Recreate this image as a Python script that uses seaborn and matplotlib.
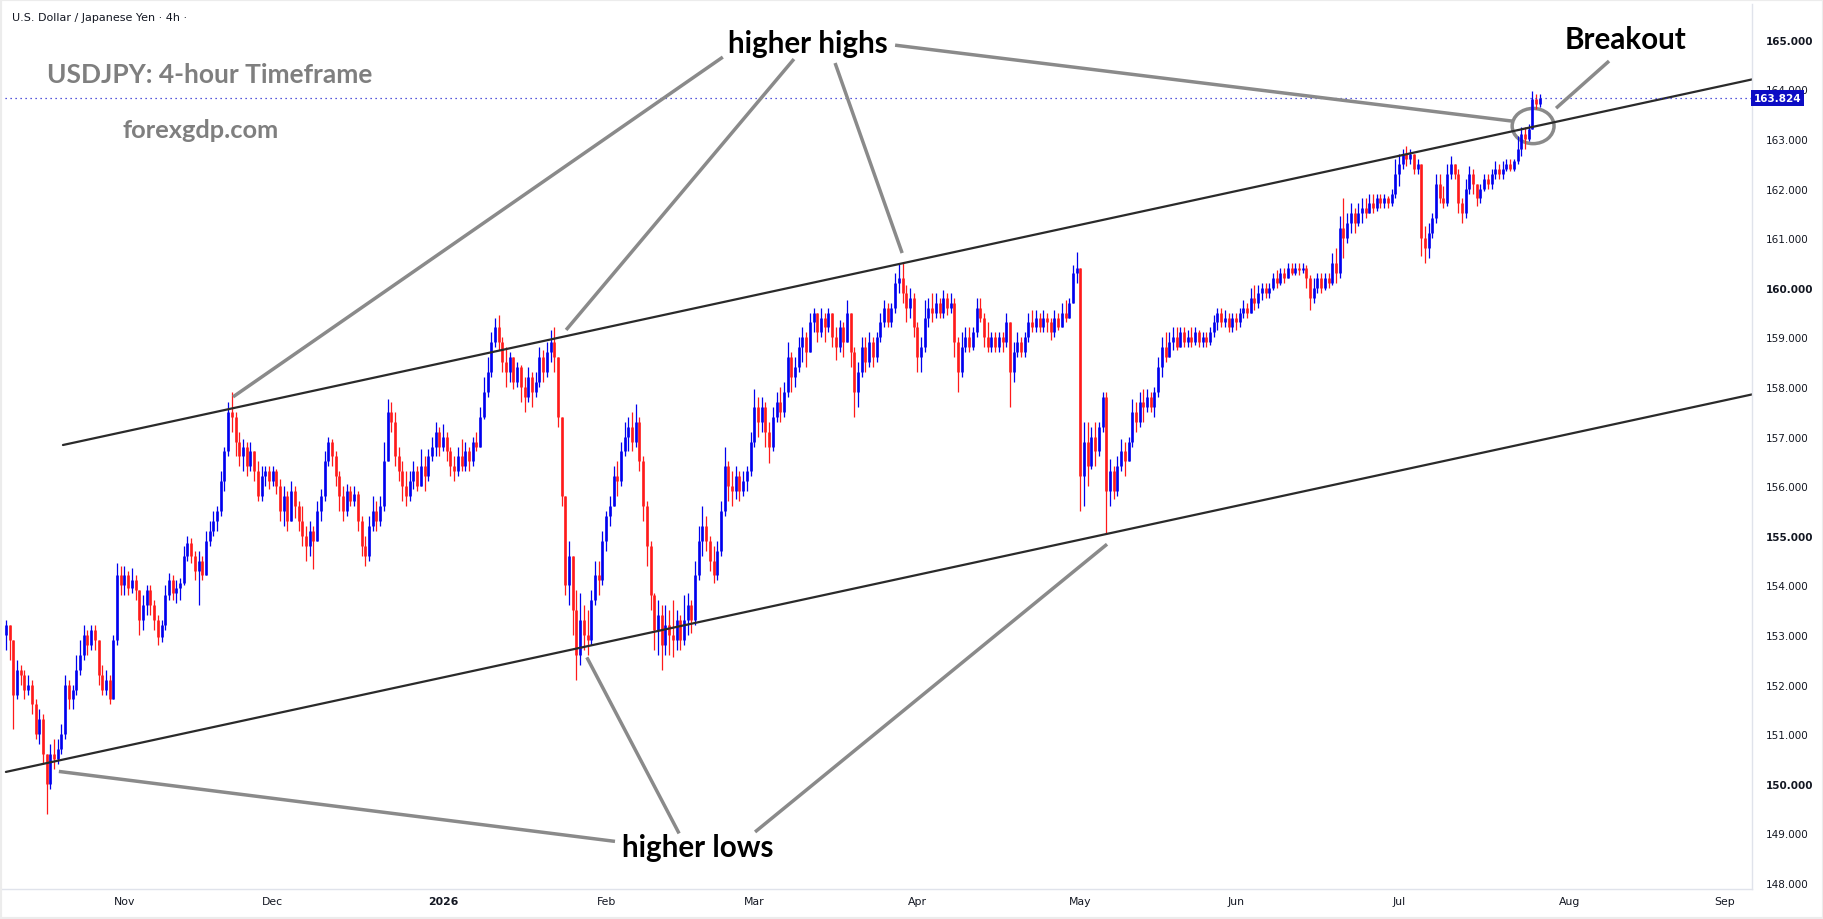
import numpy as np
import pandas as pd
import seaborn as sns
import matplotlib.pyplot as plt
from matplotlib.patches import Ellipse

# USDJPY, two candles per trading day, first day 2025-10-10
first_day = '2025-10-10'
first_open = 153.0
last_price = 163.824

close = [
    153.2, 152.9, 151.8, 152.3, 152.2, 151.9, 152.0, 151.6, 151.0, 151.3,
    150.6, 150.0, 150.6, 150.5, 150.7, 151.0, 152.0, 151.7, 151.9, 152.3,
    152.6, 153.0, 152.8, 153.1, 152.9, 152.2, 151.9, 152.1, 151.7, 152.9,
    154.2, 154.0, 154.2, 153.95, 154.1, 153.9, 153.3, 153.6, 153.9, 153.6,
    153.3, 152.95, 153.2, 153.8, 154.1, 153.85, 153.95, 154.05, 154.6, 154.85,
    154.6, 154.3, 154.5, 154.2, 154.9, 155.1, 155.3, 155.5, 156.1, 156.7,
    157.5, 157.4, 156.9, 156.6, 156.8, 156.4, 156.7, 156.3, 155.8, 156.2,
    156.3, 156.1, 156.3, 156.0, 155.5, 155.8, 155.3, 155.9, 155.6, 155.3,
    155.0, 154.8, 155.1, 154.9, 155.5, 155.8, 156.5, 156.9, 156.6, 156.2,
    155.8, 155.5, 155.9, 155.7, 155.85, 155.3, 154.8, 154.6, 155.2, 155.5,
    155.3, 155.6, 156.5, 157.5, 157.3, 156.6, 156.3, 156.0, 155.8, 156.1,
    156.3, 156.0, 156.4, 156.2, 156.6, 156.8, 157.1, 156.8, 157.0, 156.7,
    156.4, 156.3, 156.6, 156.4, 156.7, 156.5, 156.9, 156.8, 157.4, 157.9,
    158.3, 158.9, 159.2, 158.9, 158.5, 158.3, 158.6, 158.1, 158.4, 158.0,
    157.8, 158.2, 157.9, 158.1, 158.6, 158.3, 158.7, 158.9, 158.6, 157.4,
    155.8, 154.0, 154.6, 153.5, 152.6, 153.3, 153.0, 152.9, 153.7, 154.2,
    154.1, 154.9, 155.4, 155.6, 156.2, 156.1, 156.7, 157.0, 157.2, 156.9,
    157.3, 156.5, 155.6, 154.8, 153.8, 153.1, 153.4, 152.8, 153.2, 153.0,
    152.9, 153.3, 152.9, 153.3, 153.6, 153.3, 154.2, 154.9, 155.2, 154.9,
    154.5, 154.2, 154.7, 155.5, 156.4, 156.0, 155.9, 156.2, 155.9, 156.1,
    156.3, 156.9, 157.6, 157.3, 157.6, 157.1, 156.8, 157.4, 157.7, 157.5,
    157.9, 158.6, 158.2, 158.4, 158.8, 159.0, 158.7, 159.3, 159.5, 159.1,
    159.4, 159.2, 159.5, 159.0, 158.8, 159.2, 158.9, 159.5, 158.7, 157.9,
    158.3, 158.8, 158.5, 158.9, 158.6, 159.0, 159.3, 159.6, 159.3, 159.6,
    160.1, 160.2, 159.9, 159.6, 159.8, 159.2, 158.6, 158.8, 159.4, 159.6,
    159.5, 159.7, 159.5, 159.8, 159.6, 159.7, 158.9, 158.3, 158.8, 159.0,
    158.8, 159.1, 159.6, 159.4, 159.0, 158.8, 159.0, 158.8, 159.0, 158.9,
    159.3, 158.3, 158.7, 158.9, 158.7, 159.0, 159.3, 159.2, 159.4, 159.2,
    159.4, 159.3, 159.1, 159.4, 159.2, 159.5, 159.4, 159.7, 160.3, 160.4,
    156.2, 156.9, 156.4, 157.0, 156.7, 157.2, 157.8, 155.9, 156.3, 155.9,
    156.4, 156.7, 156.5, 156.9, 157.5, 157.3, 157.7, 157.6, 157.8, 157.6,
    157.9, 158.4, 158.8, 158.6, 158.9, 159.0, 158.8, 159.1, 158.9, 159.0,
    158.9, 159.1, 158.9, 159.0, 158.9, 159.1, 159.3, 159.5, 159.3, 159.4,
    159.2, 159.4, 159.3, 159.5, 159.6, 159.5, 159.8, 159.7, 159.9, 160.0,
    159.9, 160.0, 160.2, 160.1, 160.3, 160.2, 160.4, 160.3, 160.4, 160.35,
    160.4, 160.2, 159.8, 160.0, 160.2, 160.0, 160.2, 160.1, 160.5, 160.3,
    161.2, 161.0, 161.3, 161.5, 161.3, 161.5, 161.6, 161.5, 161.7, 161.6,
    161.8, 161.7, 161.8, 161.7, 161.9, 162.3, 162.5, 162.7, 162.6, 162.7,
    162.4, 162.5, 161.0, 160.8, 161.1, 161.4, 162.1, 161.8, 161.7, 162.3,
    162.5, 162.3, 161.7, 161.5, 162.0, 162.3, 162.1, 161.8, 162.0, 162.2,
    162.1, 162.3, 162.4, 162.3, 162.4, 162.5, 162.4, 162.55, 162.8, 163.1,
    163.0, 163.2, 163.8, 163.7, 163.824,
]

high = [
    153.3, 153.1, 152.9, 152.5, 152.4, 152.3, 152.2, 152.1, 151.7, 151.5,
    151.4, 150.6, 150.8, 150.9, 150.9, 151.2, 152.2, 152.1, 152.0, 152.6,
    152.9, 153.2, 153.1, 153.2, 153.2, 152.9, 152.4, 152.3, 152.2, 153.0,
    154.45, 154.4, 154.4, 154.3, 154.35, 154.2, 153.9, 153.8, 154.0, 154.0,
    153.7, 153.4, 153.3, 154.0, 154.25, 154.2, 154.1, 154.15, 154.8, 155.0,
    154.95, 154.7, 154.7, 154.6, 155.1, 155.3, 155.5, 155.6, 156.3, 156.8,
    157.7, 157.9, 157.5, 157.1, 156.95, 156.9, 156.9, 156.7, 156.5, 156.4,
    156.4, 156.4, 156.4, 156.35, 156.15, 156.0, 155.9, 156.1, 156.0, 155.7,
    155.6, 155.2, 155.3, 155.2, 155.7, 155.95, 156.7, 157.0, 156.95, 156.7,
    156.3, 156.0, 156.05, 156.0, 156.0, 155.9, 155.4, 155.0, 155.4, 155.8,
    155.7, 155.8, 156.9, 157.75, 157.7, 157.5, 156.8, 156.5, 156.3, 156.3,
    156.5, 156.4, 156.75, 156.6, 156.75, 157.0, 157.3, 157.2, 157.25, 157.1,
    156.8, 156.6, 156.8, 156.95, 156.9, 156.8, 157.0, 157.1, 157.6, 158.2,
    158.6, 159.1, 159.4, 159.45, 159.0, 158.8, 158.7, 158.6, 158.5, 158.45,
    158.2, 158.4, 158.3, 158.3, 158.8, 158.75, 158.9, 159.15, 159.2, 158.6,
    157.3, 155.6, 154.9, 154.6, 153.9, 153.85, 153.6, 153.5, 153.9, 154.5,
    154.5, 155.1, 155.5, 155.8, 156.4, 156.5, 156.9, 157.3, 157.4, 157.5,
    157.65, 157.4, 156.6, 155.7, 154.9, 153.85, 153.7, 153.6, 153.6, 153.5,
    153.7, 153.5, 153.4, 153.8, 153.85, 153.7, 154.5, 155.2, 155.6, 155.4,
    155.0, 154.8, 154.9, 155.7, 156.8, 156.5, 156.3, 156.4, 156.3, 156.3,
    156.4, 157.1, 157.95, 157.8, 157.8, 157.7, 157.3, 157.6, 157.9, 158.0,
    158.1, 158.9, 158.7, 158.6, 159.0, 159.2, 159.1, 159.5, 159.6, 159.5,
    159.6, 159.5, 159.6, 159.5, 159.2, 159.35, 159.3, 159.75, 159.5, 158.8,
    158.5, 159.0, 159.0, 159.1, 159.0, 159.1, 159.5, 159.75, 159.7, 159.7,
    160.3, 160.5, 160.5, 160.05, 160.0, 159.9, 159.3, 159.0, 159.75, 159.8,
    159.9, 159.9, 159.8, 159.95, 159.9, 159.9, 159.8, 159.0, 159.1, 159.2,
    159.2, 159.2, 159.8, 159.8, 159.5, 159.3, 159.1, 159.1, 159.1, 159.1,
    159.5, 159.3, 158.9, 159.1, 159.0, 159.1, 159.5, 159.55, 159.55, 159.5,
    159.55, 159.5, 159.4, 159.55, 159.5, 159.7, 159.75, 159.8, 160.45, 160.72,
    160.4, 157.3, 157.3, 157.2, 157.3, 157.3, 157.9, 157.9, 156.55, 156.4,
    156.6, 156.95, 156.9, 157.0, 157.75, 157.7, 157.9, 157.95, 157.95, 157.9,
    158.0, 158.6, 159.0, 159.1, 159.1, 159.2, 159.2, 159.2, 159.2, 159.15,
    159.2, 159.2, 159.15, 159.1, 159.1, 159.2, 159.45, 159.6, 159.6, 159.55,
    159.5, 159.5, 159.5, 159.6, 159.75, 159.7, 160.0, 160.05, 160.05, 160.1,
    160.1, 160.1, 160.3, 160.35, 160.4, 160.4, 160.5, 160.5, 160.5, 160.5,
    160.5, 160.45, 160.25, 160.2, 160.3, 160.3, 160.3, 160.3, 160.7, 160.8,
    161.45, 161.8, 161.5, 161.7, 161.6, 161.7, 161.8, 161.8, 161.9, 161.9,
    161.9, 161.9, 161.9, 161.85, 162.0, 162.6, 162.7, 162.8, 162.85, 162.8,
    162.7, 162.6, 162.4, 161.25, 161.3, 161.5, 162.3, 162.3, 162.05, 162.5,
    162.65, 162.5, 162.4, 161.8, 162.2, 162.45, 162.4, 162.1, 162.1, 162.3,
    162.3, 162.4, 162.55, 162.5, 162.55, 162.6, 162.6, 162.6, 163.05, 163.25,
    163.25, 163.3, 163.97, 163.9, 163.9,
]

low = [
    152.7, 152.5, 151.1, 151.7, 152.0, 151.7, 151.8, 151.4, 150.9, 150.8,
    150.4, 149.4, 149.9, 150.3, 150.4, 150.6, 150.9, 151.5, 151.5, 151.8,
    152.2, 152.5, 152.6, 152.7, 152.7, 152.0, 151.8, 151.8, 151.6, 151.7,
    152.8, 153.8, 153.8, 153.8, 153.85, 153.7, 153.0, 153.1, 153.4, 153.4,
    153.1, 152.8, 152.85, 153.1, 153.7, 153.7, 153.65, 153.7, 154.0, 154.5,
    154.45, 154.1, 153.6, 154.1, 154.2, 154.8, 155.0, 155.1, 155.4, 155.9,
    156.6, 157.1, 156.6, 156.4, 156.3, 156.2, 156.3, 156.1, 155.7, 155.7,
    156.0, 155.95, 156.0, 155.85, 155.3, 155.2, 155.1, 155.3, 155.35, 155.1,
    154.8, 154.5, 154.6, 154.33, 154.9, 155.3, 155.7, 156.4, 156.4, 156.0,
    155.5, 155.3, 155.4, 155.6, 155.6, 155.1, 154.6, 154.4, 154.5, 155.1,
    155.1, 155.2, 155.5, 156.5, 157.1, 156.4, 156.1, 155.7, 155.6, 155.7,
    155.95, 155.9, 156.0, 155.9, 156.1, 156.5, 156.6, 156.6, 156.7, 156.5,
    156.2, 156.1, 156.2, 156.3, 156.3, 156.3, 156.4, 156.7, 156.8, 157.35,
    157.8, 158.2, 158.8, 158.75, 158.3, 158.0, 158.1, 157.95, 158.0, 157.7,
    157.5, 157.7, 157.6, 157.8, 158.0, 158.1, 158.2, 158.5, 158.3, 157.2,
    155.6, 153.8, 153.6, 153.0, 152.1, 152.4, 152.7, 152.6, 152.8, 153.6,
    153.8, 154.0, 154.7, 155.2, 155.6, 155.8, 156.0, 156.6, 156.7, 156.7,
    156.8, 156.3, 155.3, 154.4, 153.5, 152.7, 152.6, 152.3, 152.6, 152.6,
    152.55, 152.7, 152.7, 152.8, 153.0, 153.05, 153.2, 154.1, 154.6, 154.7,
    154.3, 154.05, 154.1, 154.6, 155.4, 155.7, 155.6, 155.75, 155.7, 155.8,
    155.9, 156.2, 156.8, 157.0, 157.1, 156.8, 156.47, 156.7, 157.3, 157.3,
    157.4, 157.8, 157.9, 158.0, 158.3, 158.5, 158.4, 158.8, 159.1, 158.9,
    159.0, 158.9, 159.1, 158.8, 158.55, 158.7, 158.6, 158.9, 158.4, 157.4,
    157.6, 158.2, 158.3, 158.4, 158.4, 158.5, 158.9, 159.2, 159.2, 159.2,
    159.5, 159.9, 159.7, 159.3, 159.4, 159.0, 158.3, 158.3, 158.7, 159.2,
    159.3, 159.4, 159.4, 159.4, 159.45, 159.5, 158.6, 157.9, 158.2, 158.7,
    158.7, 158.75, 159.0, 159.3, 158.8, 158.7, 158.7, 158.7, 158.7, 158.7,
    158.8, 157.6, 158.1, 158.6, 158.6, 158.6, 158.9, 159.1, 159.1, 159.1,
    159.1, 159.1, 158.95, 159.0, 159.15, 159.2, 159.3, 159.4, 159.7, 160.1,
    155.5, 155.6, 156.0, 156.35, 156.4, 156.6, 157.1, 155.03, 155.6, 155.75,
    155.8, 156.3, 156.2, 156.5, 156.8, 157.1, 157.2, 157.3, 157.5, 157.5,
    157.4, 157.8, 158.2, 158.5, 158.6, 158.75, 158.75, 158.8, 158.8, 158.8,
    158.8, 158.85, 158.8, 158.8, 158.8, 158.85, 159.0, 159.15, 159.2, 159.2,
    159.1, 159.1, 159.15, 159.2, 159.4, 159.4, 159.5, 159.55, 159.6, 159.75,
    159.8, 159.8, 159.95, 160.0, 160.05, 160.1, 160.2, 160.25, 160.25, 160.25,
    160.3, 160.0, 159.55, 159.7, 159.9, 159.9, 159.95, 160.0, 160.05, 160.1,
    160.2, 160.6, 160.9, 161.1, 161.1, 161.25, 161.3, 161.4, 161.5, 161.5,
    161.55, 161.6, 161.6, 161.6, 161.65, 161.8, 162.05, 162.4, 162.45, 162.5,
    162.3, 162.3, 160.65, 160.5, 160.6, 161.0, 161.3, 161.7, 161.6, 161.65,
    162.2, 162.2, 161.5, 161.3, 161.4, 161.9, 161.9, 161.65, 161.7, 161.95,
    162.0, 162.0, 162.2, 162.2, 162.2, 162.35, 162.35, 162.35, 162.5, 162.65,
    162.8, 162.95, 163.2, 163.6, 163.65,
]

month_labels = ['Nov', 'Dec', '2026', 'Feb', 'Mar', 'Apr', 'May', 'Jun', 'Jul', 'Aug', 'Sep']
month_starts = ['2025-11-01', '2025-12-01', '2026-01-01', '2026-02-01', '2026-03-01',
                '2026-04-01', '2026-05-01', '2026-06-01', '2026-07-01', '2026-08-01',
                '2026-09-01']
price_ticks = list(range(148, 166))

# channel lines as (candle index, price)
upper_line_k = [15.4, 471.3]
upper_line_p = [156.83, 164.2]
lower_line_k = [0.0, 471.3]
lower_line_p = [150.24, 157.85]

UP = '#0000ee'
DOWN = '#ff1a1a'
GREY = '#8a8a8a'
TXT = '#131722'

W, H = 1824, 920
sns.set_style('white')
plt.rcParams['font.family'] = ['DejaVu Sans']

fig = plt.figure(figsize=(W / 100, H / 100), dpi=100)
ax = fig.add_axes([0, 30 / H, 1752 / W, 885 / H])

# candles
c = np.array(close)
o = np.r_[first_open, c[:-1]]
hi = np.maximum(np.array(high), np.maximum(o, c))
lo = np.minimum(np.array(low), np.minimum(o, c))
k = np.arange(len(c))
cols = np.where(c >= o, UP, DOWN)
ax.vlines(k, lo, hi, colors=cols, lw=0.9)
ax.vlines(k, np.minimum(o, c), np.maximum(o, c), colors=cols, lw=1.9)

# channel
sns.lineplot(x=upper_line_k, y=upper_line_p, ax=ax, color='#2a2a2a', lw=1.6)
sns.lineplot(x=lower_line_k, y=lower_line_p, ax=ax, color='#2a2a2a', lw=1.6)

# last price
ax.axhline(last_price, color='#2020d0', lw=0.9, ls=(0, (1, 3)))
ax.text(1.001, last_price, f'{last_price:.3f}', transform=ax.get_yaxis_transform(),
        ha='left', va='center', color='white', fontsize=7.5, fontweight='bold',
        bbox=dict(boxstyle='square,pad=0.25', fc='#0c0cc4', ec='none'), clip_on=False)

# leader lines, in (candle index, price)
leaders = [
    ((193.5, 164.65), (61.3, 157.80)),
    ((212.7, 164.61), (151.2, 159.15)),
    ((223.8, 164.53), (241.9, 160.70)),
    ((240.0, 164.89), (406.5, 163.36)),
    ((432.7, 164.57), (418.4, 163.62)),
    ((164.4, 148.84), (14.3, 150.25)),
    ((181.7, 149.00), (156.8, 152.55)),
    ((202.2, 149.03), (297.2, 154.83)),
]
for a, b in leaders:
    ax.plot([a[0], b[0]], [a[1], b[1]], color=GREY, lw=2.5, solid_capstyle='butt')
ax.add_patch(Ellipse((412.2, 163.26), 11.3, 0.71, fill=False, ec=GREY, lw=2.5))

ax.set_xlim(-5.9 / 3.705, (1752 - 5.9) / 3.705)
ax.set_ylim(147.88, 165.72)

# axes
days = pd.bdate_range(first_day, '2026-09-30')
month_k = [2 * days.searchsorted(pd.Timestamp(m)) for m in month_starts]
ax.set_xticks(month_k)
ax.set_xticklabels(month_labels, fontsize=7.8, color=TXT)
for t in ax.get_xticklabels():
    if t.get_text() == '2026':
        t.set_fontweight('bold')
ax.yaxis.tick_right()
ax.set_yticks(price_ticks)
ax.set_yticklabels([f'{v:.3f}' for v in price_ticks], fontsize=7.5, color=TXT)
for t, v in zip(ax.get_yticklabels(), price_ticks):
    if v % 5 == 0:
        t.set_fontweight('bold')
ax.tick_params(axis='both', length=0)
ax.tick_params(axis='y', pad=10)
ax.tick_params(axis='x', pad=5)
for s in ['top', 'left']:
    ax.spines[s].set_visible(False)
for s in ['right', 'bottom']:
    ax.spines[s].set_color('#e0e3eb')
    ax.spines[s].set_linewidth(1)

# titles
def ftext(x, y, s, **kw):
    fig.text(x / W, 1 - y / H, s, **kw)

ftext(12, 18, 'U.S. Dollar / Japanese Yen \u00b7 4h \u00b7', ha='left', va='center',
      fontsize=8, color=TXT)
ftext(210, 75, 'USDJPY: 4-hour Timeframe', ha='center', va='center', fontsize=19,
      color='#7f7f7f', fontweight='bold', family='Lato')
ftext(201, 131, 'forexgdp.com', ha='center', va='center', fontsize=18.3,
      color='#7f7f7f', fontweight='bold', family='Lato')
ftext(808, 44, 'higher highs', ha='center', va='center', fontsize=21.3,
      color='black', fontweight='bold', family='Lato')
ftext(1626, 40, 'Breakout', ha='center', va='center', fontsize=21.3,
      color='black', fontweight='bold', family='Lato')
ftext(698, 848, 'higher lows', ha='center', va='center', fontsize=21.3,
      color='black', fontweight='bold', family='Lato')

fig.patches.append(plt.Rectangle((0, 0), 1, 1, transform=fig.transFigure, fill=False,
                                 ec='#ececec', lw=3))

fig.savefig('out.png', dpi=100)
